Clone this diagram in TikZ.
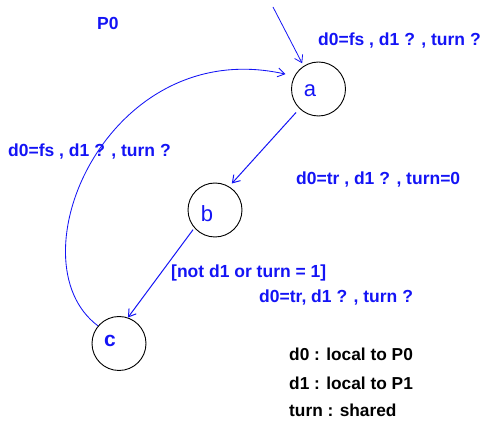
\documentclass[tikz,border=0pt]{standalone}
\usepackage{fontspec}
\setmainfont{Liberation Sans}
\usetikzlibrary{arrows.meta}
\definecolor{ink}{RGB}{20,20,245}
\begin{document}
\begin{tikzpicture}[x=1pt,y=-1pt,
  state/.style={circle, draw=black, line width=0.9pt, minimum size=54pt, inner sep=0pt},
  statename/.style={anchor=base, text=ink, font=\fontsize{22}{24}\selectfont, inner sep=0pt},
  guard/.style={anchor=base west, text=ink, font=\fontsize{17.5}{20}\selectfont\bfseries, inner sep=0pt},
  note/.style={anchor=base west, text=black, font=\fontsize{17.3}{20}\selectfont\bfseries, inner sep=0pt},
  trans/.style={draw=ink, line width=1pt, -{Straight Barb[length=7pt,width=9pt]}}]
\useasboundingbox (0,0) rectangle (483,422);

% states
\node[state] (a) at (318.5,89) {};
\node[state] (b) at (215,210) {};
\node[state] (c) at (119,343.5) {};
\node[statename] (la) at (310,97) {a};
\node[statename] (lb) at (207,222) {b};
\node[statename, font=\fontsize{21}{24}\selectfont\bfseries] (lc) at (110,347) {c};

% initial arrow
\coordinate (init) at (273,7);
\draw[trans, line width=0.8pt, shorten >=3pt] (init) -- (a.123);

% transitions
\draw[trans, shorten <=5pt, shorten >=4pt] (a.226) -- (b.59);
\draw[trans, shorten <=2pt] (b.221) -- (c.71);
\draw[trans, line width=0.85pt, shorten >=9pt] (c.140) .. controls +(-87,-65) and +(-187,-42) .. (a.152);

% labels
\node[guard] (p0) at (97,30) {P0};
\node[guard] (g1) at (318,46) {d0=fs , d1 ? , turn ?};
\node[guard] (g2) at (8,157) {d0=fs , d1 ? , turn ?};
\node[guard] (g3) at (296,185) {d0=tr , d1 ? , turn=0};
\node[guard] (g4) at (171,278) {[not d1 or turn = 1]};
\node[guard] (g5) at (259,303) {d0=tr, d1 ? , turn ?};

% variable legend
\node[note] (n1) at (289,361) {d0 : local to P0};
\node[note] (n2) at (289,390) {d1 : local to P1};
\node[note] (n3) at (289,417) {turn : shared};
\end{tikzpicture}
\end{document}
